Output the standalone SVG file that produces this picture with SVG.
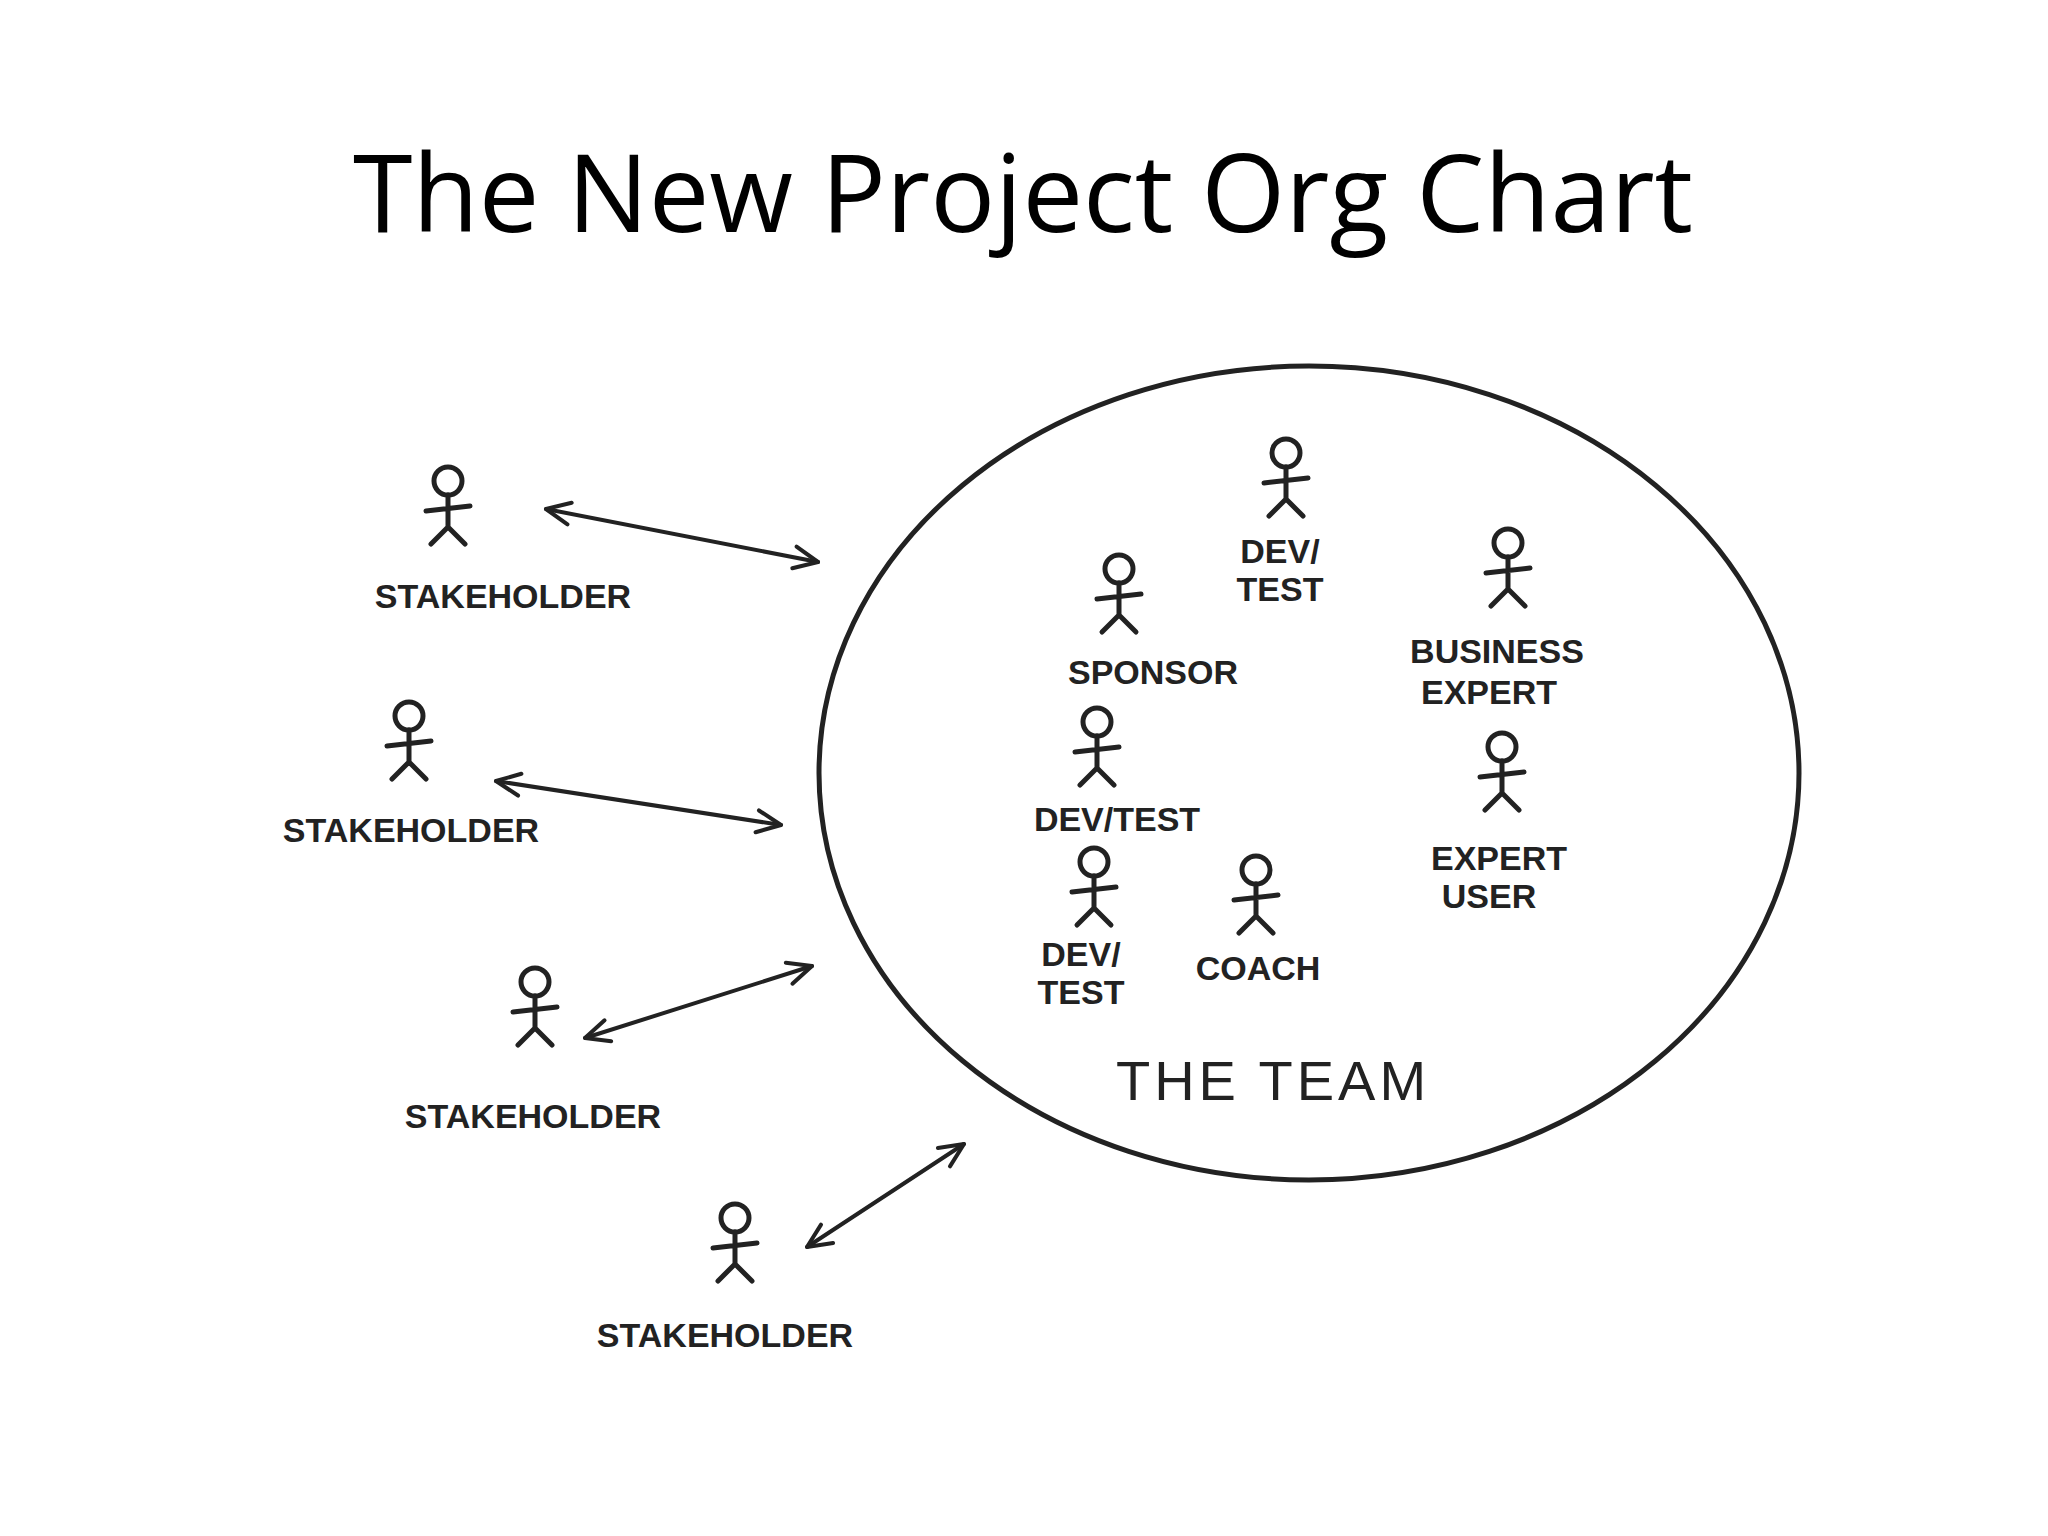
<svg xmlns="http://www.w3.org/2000/svg" width="2048" height="1536" viewBox="0 0 2048 1536">
<style>
.s{fill:none;stroke:#222;stroke-width:5;stroke-linecap:round;stroke-linejoin:round}
.l{font-family:"Liberation Sans",Arial,sans-serif;font-weight:bold;font-size:34px;fill:#222;text-anchor:middle}
.c{fill:none;stroke:#222;stroke-width:4;stroke-linecap:round}
</style>
<defs>
<g id="fig" class="s"><circle cx="0" cy="0" r="14"/><path d="M0 14V46M-22 30L22 25M0 46L-17 63M0 46L17 63"/></g>
<marker id="a" viewBox="0 0 30 30" refX="27" refY="15" markerWidth="30" markerHeight="30" orient="auto-start-reverse" markerUnits="userSpaceOnUse"><path d="M3 4L27 15L3 26" fill="none" stroke="#222" stroke-width="4" stroke-linecap="round" stroke-linejoin="round"/></marker>
</defs>
<rect width="2048" height="1536" fill="#fff"/>
<text x="1023" y="232" font-family="'Open Sans','Liberation Sans',sans-serif" font-size="108" text-anchor="middle" fill="#000">The New Project Org Chart</text>
<ellipse cx="1309" cy="773" rx="490" ry="407" class="s"/>
<g id="s1"><use href="#fig" x="448" y="481"/><text class="l" x="503" y="608">STAKEHOLDER</text></g>
<g id="s2"><use href="#fig" x="409" y="716"/><text class="l" x="411" y="842">STAKEHOLDER</text></g>
<g id="s3"><use href="#fig" x="535" y="982"/><text class="l" x="533" y="1128">STAKEHOLDER</text></g>
<g id="s4"><use href="#fig" x="735" y="1218"/><text class="l" x="725" y="1347">STAKEHOLDER</text></g>
<g id="dt1"><use href="#fig" x="1286" y="453"/><text class="l" x="1280" y="563">DEV/</text><text class="l" x="1280" y="601">TEST</text></g>
<g id="sp"><use href="#fig" x="1119" y="569"/><text class="l" x="1153" y="684">SPONSOR</text></g>
<g id="be"><use href="#fig" x="1508" y="543"/><text class="l" x="1497" y="663">BUSINESS</text><text class="l" x="1489" y="704">EXPERT</text></g>
<g id="dt2"><use href="#fig" x="1097" y="722"/><text class="l" x="1117" y="831">DEV/TEST</text></g>
<g id="eu"><use href="#fig" x="1502" y="747"/><text class="l" x="1499" y="870">EXPERT</text><text class="l" x="1489" y="908">USER</text></g>
<g id="dt3"><use href="#fig" x="1094" y="862"/><text class="l" x="1081" y="966">DEV/</text><text class="l" x="1081" y="1004">TEST</text></g>
<g id="co"><use href="#fig" x="1256" y="870"/><text class="l" x="1258" y="980">COACH</text></g>
<text x="1273" y="1100" font-family="'Liberation Sans',sans-serif" font-size="56" fill="#222" text-anchor="middle" letter-spacing="4">THE   TEAM</text>
<g id="connectors" class="c">
<line x1="546" y1="509" x2="818" y2="562" marker-start="url(#a)" marker-end="url(#a)"/>
<line x1="496" y1="781" x2="781" y2="825" marker-start="url(#a)" marker-end="url(#a)"/>
<line x1="585" y1="1038" x2="812" y2="966" marker-start="url(#a)" marker-end="url(#a)"/>
<line x1="807" y1="1247" x2="964" y2="1144" marker-start="url(#a)" marker-end="url(#a)"/>
</g>
</svg>
